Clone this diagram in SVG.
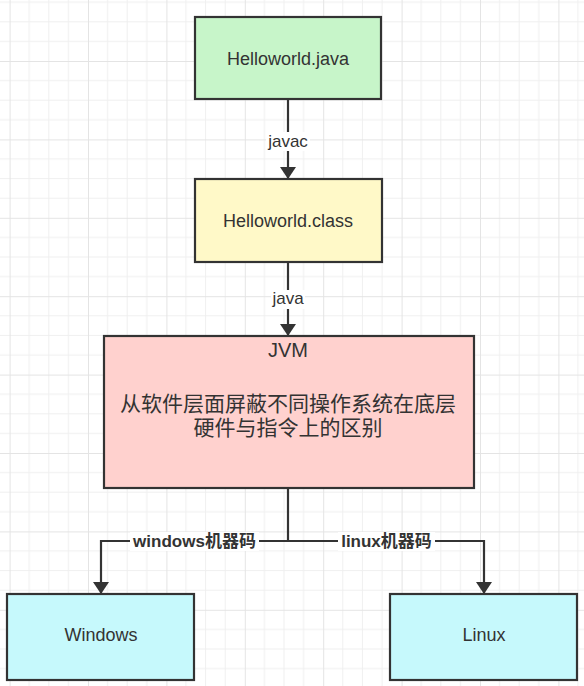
<svg xmlns="http://www.w3.org/2000/svg" width="584" height="686" viewBox="0 0 584 686">
<defs>
<pattern id="grid" x="9.6" y="61" width="78.4" height="78.4" patternUnits="userSpaceOnUse">
<path d="M19.6 0V78.4M39.2 0V78.4M58.8 0V78.4M0 19.6H78.4M0 39.2H78.4M0 58.8H78.4" fill="none" stroke="#efefef" stroke-width="1"/>
<path d="M0.5 0V78.4M0 0.5H78.4" fill="none" stroke="#e4e4e4" stroke-width="1"/>
</pattern>
<marker id="arr" viewBox="0 0 12 16" refX="12" refY="8" markerWidth="12" markerHeight="16" markerUnits="userSpaceOnUse" orient="auto">
<path d="M0 0L12 8L0 16Z" fill="#333"/>
</marker>
<style>
.box{stroke:#333;stroke-width:2.2}
.t{font-family:"Liberation Sans","Noto Sans CJK SC",sans-serif;fill:#333;text-anchor:middle}
.lbl{font-family:"Liberation Sans","Noto Sans CJK SC",sans-serif;fill:#333;text-anchor:middle;font-size:17px}
.bl{font-family:"Liberation Sans","Noto Sans CJK SC",sans-serif;fill:#333;text-anchor:middle;font-size:17px;font-weight:bold}
.ln{fill:none;stroke:#333;stroke-width:2.2}
</style>
</defs>
<rect width="584" height="686" fill="#fff"/>
<rect width="584" height="686" fill="url(#grid)"/>
<g id="connectors">
<path class="ln" d="M288 99V179" marker-end="url(#arr)"/>
<path class="ln" d="M288 262V336" marker-end="url(#arr)"/>
<path class="ln" d="M288 488V541H101V594" marker-end="url(#arr)"/>
<path class="ln" d="M288 541H484V594" marker-end="url(#arr)"/>
<rect x="266" y="132" width="44" height="19" fill="#fff"/>
<text class="lbl" x="288" y="146.5">javac</text>
<rect x="271" y="290" width="34" height="19" fill="#fff"/>
<text class="lbl" x="288" y="304">java</text>
<rect x="130" y="532" width="129" height="19" fill="#fff"/>
<text class="bl" x="194.5" y="547">windows机器码</text>
<rect x="338" y="532" width="97" height="19" fill="#fff"/>
<text class="bl" x="386.5" y="547">linux机器码</text>
</g>
<g id="helloworld-java">
<rect class="box" x="195" y="17" width="186" height="82" fill="#c7f5c9"/>
<text class="t" x="288" y="65" font-size="18">Helloworld.java</text>
</g>
<g id="helloworld-class">
<rect class="box" x="195" y="179" width="187" height="83" fill="#fff9c8"/>
<text class="t" x="288" y="226.5" font-size="18">Helloworld.class</text>
</g>
<g id="jvm">
<rect class="box" x="104" y="336" width="370" height="152" fill="#ffd1ce"/>
<text class="t" x="288" y="357" font-size="20">JVM</text>
<text class="t" x="288" y="410.8" font-size="21">从软件层面屏蔽不同操作系统在底层</text>
<text class="t" x="288" y="434.6" font-size="21">硬件与指令上的区别</text>
</g>
<g id="windows">
<rect class="box" x="7" y="594" width="187" height="86" fill="#c6f9fc"/>
<text class="t" x="101" y="641" font-size="18">Windows</text>
</g>
<g id="linux">
<rect class="box" x="390" y="594" width="187" height="86" fill="#c6f9fc"/>
<text class="t" x="484" y="641" font-size="18">Linux</text>
</g>
</svg>
